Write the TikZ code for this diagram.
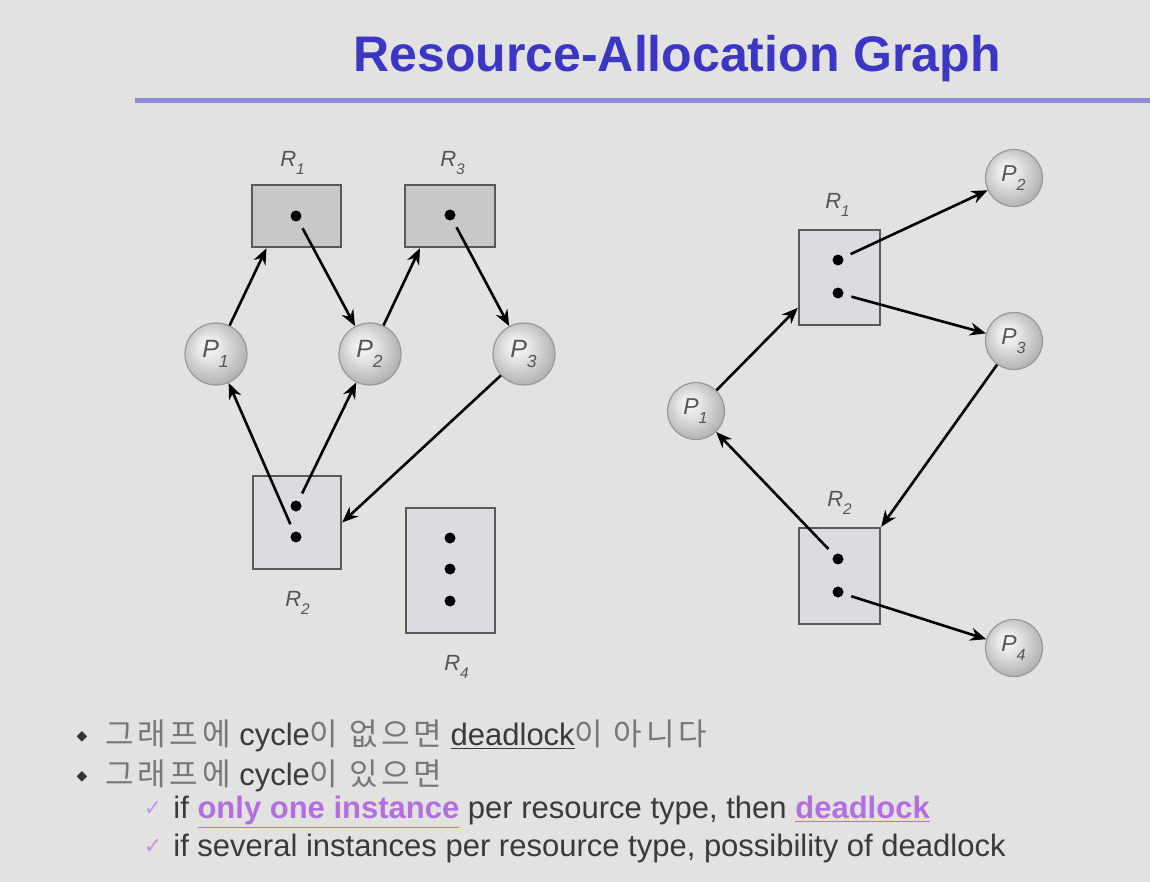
\documentclass[tikz,border=0pt]{standalone}
\usepackage{fontspec}
\setmainfont{Liberation Sans}
\newfontfamily\kofont[LetterSpace=12]{Noto Sans CJK KR}
\newfontfamily\symfont{DejaVu Sans}
\usetikzlibrary{arrows.meta}
\definecolor{slidebg}{HTML}{E2E2E0}
\definecolor{titleblue}{HTML}{3B37C4}
\definecolor{ruleblue}{HTML}{8F8AD8}
\definecolor{hilite}{HTML}{B36FE0}
\definecolor{labelgray}{HTML}{555555}
\definecolor{textgray}{HTML}{3A3A3A}
\definecolor{kogray}{HTML}{777777}
\definecolor{resdark}{HTML}{C8C8CA}
\definecolor{reslight}{HTML}{DCDCE0}
\pgfdeclareradialshading{procball}{\pgfpoint{-7bp}{7bp}}{color(0bp)=(black!2); color(10bp)=(black!10); color(30bp)=(black!32); color(50bp)=(black!40)}
\newcommand{\ko}[1]{{\kofont\color{kogray}#1}}
\newcommand{\idx}[1]{\raisebox{-0.45ex}{\textsubscript{#1}}}
\begin{document}
\begin{tikzpicture}[x=0.5pt,y=-0.5pt,
res/.style={draw=black!65,line width=1.2pt,fill=#1,inner sep=0pt},
res/.default=reslight,
proc/.style={circle,draw=black!40,line width=0.6pt,shading=procball,minimum size=#1,inner sep=0pt,text=labelgray},
inst/.style={circle,fill=black,minimum size=5.5pt,inner sep=0pt},
lab/.style={font=\fontsize{11}{11}\selectfont\itshape,text=labelgray},
edge/.style={-{Stealth[length=8pt,width=6.5pt]},line width=1.3pt},
txt/.style={anchor=base west,font=\fontsize{15.5}{15.5}\selectfont,text=textgray,inner sep=0pt}
]
\useasboundingbox[fill=slidebg] (0,0) rectangle (1150,882);
% title
\node[anchor=base west,inner sep=0pt,text=titleblue,font=\fontsize{25}{25}\selectfont\bfseries] (title) at (353,72) {Resource-Allocation Graph};
\fill[ruleblue] (135,98) rectangle (1150,103);
% left graph: single instances
\node[res=resdark,minimum width=44.5pt,minimum height=31pt] (r1) at (296.5,216) {};
\node[res=resdark,minimum width=45pt,minimum height=31pt] (r3) at (450,216) {};
\node[res,minimum width=44pt,minimum height=46.5pt] (r2) at (297,522.5) {};
\node[res,minimum width=44.5pt,minimum height=62.5pt] (r4) at (450.5,570.5) {};
\node[inst] (r1d) at (296,216) {};
\node[inst] (r3d) at (450,215) {};
\node[inst] (r2a) at (296,506) {};
\node[inst] (r2b) at (296,537) {};
\node[inst] (r4a) at (450,538) {};
\node[inst] (r4b) at (450,569) {};
\node[inst] (r4c) at (450,601) {};
\node[lab] (r1l) at (293,163) {R\idx{1}};
\node[lab] (r3l) at (453,163) {R\idx{3}};
\node[lab] (r2l) at (298,603) {R\idx{2}};
\node[lab] (r4l) at (457,667) {R\idx{4}};
\node[proc=31pt,font=\fontsize{12.5}{12.5}\selectfont\itshape] (p1) at (216,354) {P\idx{1}};
\node[proc=31pt,font=\fontsize{12.5}{12.5}\selectfont\itshape] (p2) at (370,354) {P\idx{2}};
\node[proc=31pt,font=\fontsize{12.5}{12.5}\selectfont\itshape] (p3) at (524,354) {P\idx{3}};
\draw[edge] (p1) -- (r1.227);
\draw[edge,shorten <=4pt] (r1d) -- (p2);
\draw[edge] (p2) -- (r3.227);
\draw[edge,shorten <=4pt] (r3d) -- (p3);
\draw[edge,shorten <=4pt] (r2a) -- (p2);
\draw[edge,shorten <=4pt] (r2b) -- (p1);
\draw[edge] (p3) -- (r2.east);
% right graph: several instances
\node[res,minimum width=40.5pt,minimum height=47.5pt] (s1) at (839.5,277.5) {};
\node[res,minimum width=40.5pt,minimum height=48pt] (s2) at (839.5,576) {};
\node[inst] (s1a) at (838,260) {};
\node[inst] (s1b) at (838,293) {};
\node[inst] (s2a) at (838,559) {};
\node[inst] (s2b) at (838,592) {};
\node[lab] (s1l) at (838,205) {R\idx{1}};
\node[lab] (s2l) at (840,503) {R\idx{2}};
\node[proc=28.5pt,font=\fontsize{11.5}{11.5}\selectfont\itshape] (q1) at (696,411) {P\idx{1}};
\node[proc=28.5pt,font=\fontsize{11.5}{11.5}\selectfont\itshape] (q2) at (1014,178) {P\idx{2}};
\node[proc=28.5pt,font=\fontsize{11.5}{11.5}\selectfont\itshape] (q3) at (1014,341) {P\idx{3}};
\node[proc=28.5pt,font=\fontsize{11.5}{11.5}\selectfont\itshape] (q4) at (1014,648) {P\idx{4}};
\draw[edge] (q1) -- (s1.216);
\draw[edge,shorten <=4pt] (s1a) -- (q2);
\draw[edge,shorten <=4pt] (s1b) -- (q3);
\draw[edge] (q3) -- (s2.north east);
\draw[edge,shorten <=4pt] (s2a) -- (q1);
\draw[edge,shorten <=4pt] (s2b) -- (q4);
% bullets
\node[font=\symfont\fontsize{7}{7}\selectfont,text=black!80] (m1) at (82,737) {◆};
\node[font=\symfont\fontsize{7}{7}\selectfont,text=black!80] (m2) at (82,777) {◆};
\node[font=\symfont\fontsize{11}{11}\selectfont,text=hilite!75] (c1) at (153,809) {✓};
\node[font=\symfont\fontsize{11}{11}\selectfont,text=hilite!75] (c2) at (153,847) {✓};
\node[txt] (b1) at (105,745) {\ko{그래프에} cycle\ko{이 없으면} \underline{deadlock}\ko{이 아니다}};
\node[txt] (b2) at (105,785) {\ko{그래프에} cycle\ko{이 있으면}};
\node[txt] (b3) at (173,818) {if \textcolor{hilite}{\bfseries\underline{only one instance}} per resource type, then \textcolor{hilite}{\bfseries\underline{deadlock}}};
\node[txt] (b4) at (173,856) {if several instances per resource type, possibility of deadlock};
\end{tikzpicture}
\end{document}
